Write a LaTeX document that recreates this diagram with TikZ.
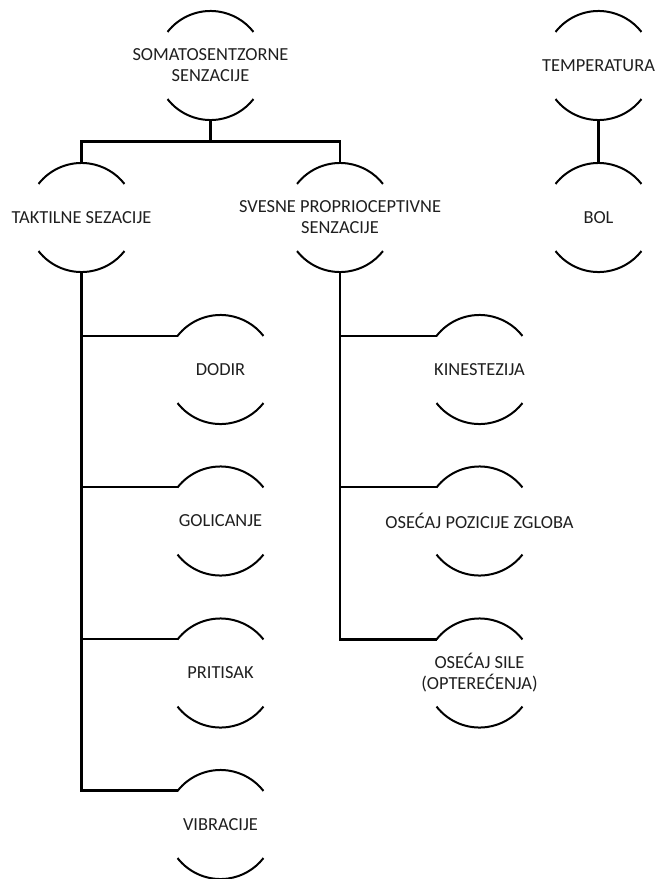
\documentclass[tikz,border=0pt]{standalone}
\usepackage{fontspec}
\setmainfont{Carlito}
\colorlet{lineC}{black}
\colorlet{textC}{black!88}
\def\senseR{40.9pt}
\newcommand{\sense}[4]{%
  \node[lbl] (#1) at (#2,#3) {#4};
  \coordinate (#1-t)  at ([yshift=\senseR]#1.center);
  \coordinate (#1-b)  at ([yshift=-\senseR]#1.center);
  \coordinate (#1-tl) at ([shift={(142:\senseR)}]#1.center);
  \draw[rim] (#1-tl) arc[start angle=142, end angle=38, radius=\senseR];
  \draw[rim] ([shift={(218:\senseR)}]#1.center) arc[start angle=218, end angle=322, radius=\senseR];}

\begin{document}
\begin{tikzpicture}[
  x=0.75pt, y=-0.75pt,
  lbl/.style={align=center, inner sep=0pt, text=textC,
              font={\fontsize{13.8}{15.75}\selectfont}},
  rim/.style={draw=lineC, line width=1.5pt},
  trunk/.style={draw=lineC, line width=2.2pt},
  branch/.style={draw=lineC, line width=1.5pt},
]
\useasboundingbox (0,0) rectangle (655,879);

% ── top level ────────────────────────────────────────────────────────────────
\sense{som}{210.5}{65.5}{SOMATOSENTZORNE\\SENZACIJE}
\sense{tem}{598.5}{65.5}{TEMPERATURA}

% ── second level ─────────────────────────────────────────────────────────────
\sense{tak}{81.5}{217.5}{TAKTILNE SEZACIJE}
\sense{sve}{340}{217.5}{SVESNE PROPRIOCEPTIVNE\\SENZACIJE}
\sense{bol}{598.5}{217.5}{BOL}

% ── tactile children ─────────────────────────────────────────────────────────
\sense{dod}{220.5}{369.5}{DODIR}
\sense{gol}{220.5}{521}{GOLICANJE}
\sense{pri}{220.5}{673}{PRITISAK}
\sense{vib}{220.5}{824.5}{VIBRACIJE}

% ── proprioceptive children ──────────────────────────────────────────────────
\sense{kin}{479.5}{369.5}{KINESTEZIJA}
\sense{ose}{479.5}{521}{OSEĆAJ POZICIJE ZGLOBA}
\sense{sil}{479.5}{673}{OSEĆAJ SILE\\(OPTEREĆENJA)}

% ── connectors ───────────────────────────────────────────────────────────────
\coordinate (bar) at ([yshift=-15.75pt]som-b);
\draw[trunk] (som-b) -- (bar);
\draw[trunk] (tak-t) -- (tak-t |- bar) -- (sve-t |- bar) -- (sve-t);
\draw[trunk] (tem-b) -- (bol-t);

\draw[trunk] (tak-b) |- (vib-tl);
\foreach \n in {dod,gol,pri}{ \draw[branch] (tak-b |- \n-tl) -- (\n-tl); }

\draw[trunk] (sve-b) |- (sil-tl);
\foreach \n in {kin,ose}{ \draw[branch] (sve-b |- \n-tl) -- (\n-tl); }

\end{tikzpicture}
\end{document}
